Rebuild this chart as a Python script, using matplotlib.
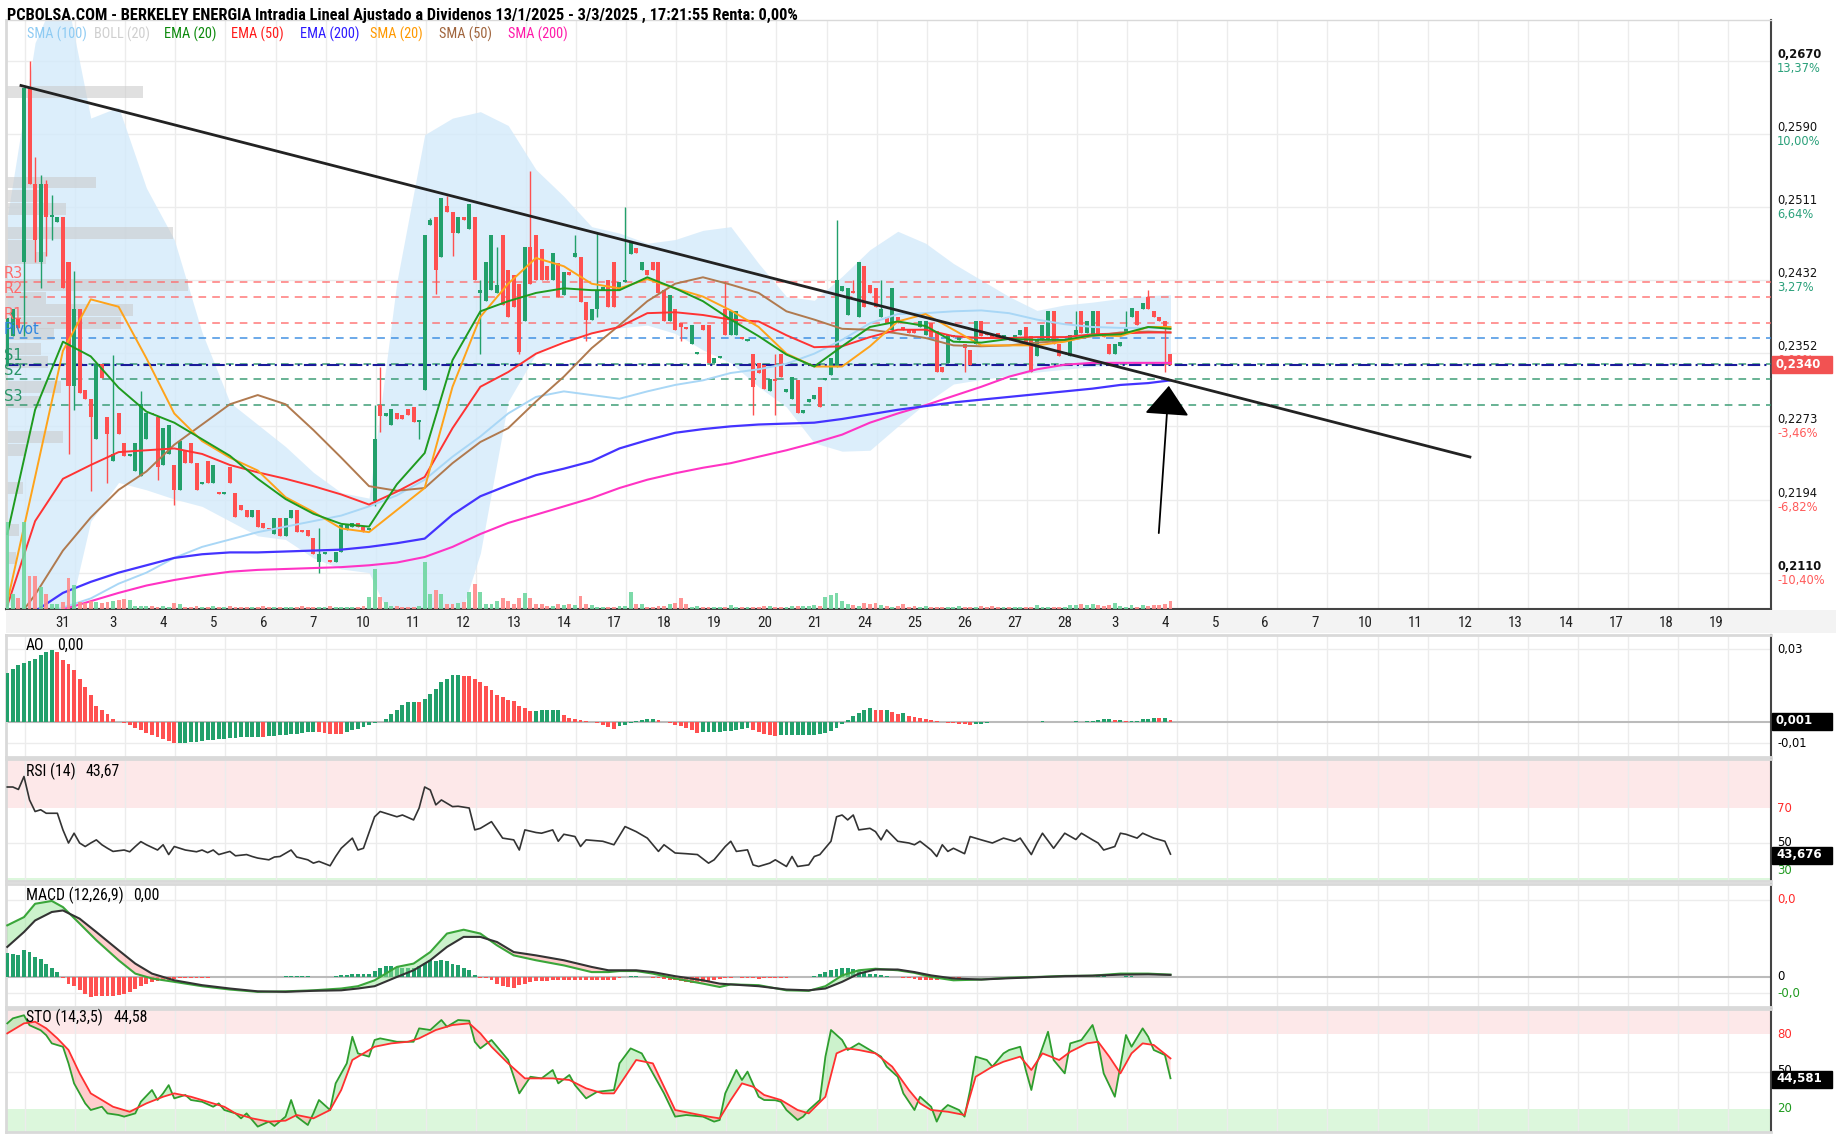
import numpy as np
import matplotlib.pyplot as plt
from matplotlib.patches import Rectangle

# ---------------- datos (precios en diezmilesimas: 2339 = 0,2339) ----------------
aperturas = [2339, 2371, 2391, 2452, 2641, 2536, 2452, 2536, 2500, 2495,
             2500, 2452, 2317, 2401, 2313, 2303, 2259, 2341, 2283, 2235,
             2287, 2255, 2241, 2225, 2219, 2259, 2287, 2283, 2231, 2243,
             2231, 2204, 2247, 2255, 2233, 2210, 2235, 2211, 2202, 2199,
             2229, 2201, 2188, 2182, 2174, 2182, 2168, 2162, 2156, 2173,
             2154, 2173, 2182, 2160, 2160, 2152, 2126, 2134, 2128, 2126,
             2136, 2160, 2164, 2168, 2164, 2160, 2192, 2296, 2284, 2274,
             2287, 2285, 2292, 2294, 2278, 2313, 2492, 2501, 2457, 2512,
             2506, 2483, 2501, 2487, 2501, 2418, 2409, 2421, 2418, 2481,
             2443, 2437, 2428, 2388, 2468, 2481, 2466, 2447, 2432, 2450,
             2416, 2441, 2457, 2457, 2408, 2389, 2401, 2421, 2432, 2452,
             2421, 2430, 2460, 2467, 2443, 2443, 2452, 2452, 2421, 2387,
             2400, 2385, 2381, 2363, 2352, 2383, 2383, 2342, 2347, 2401,
             2372, 2372, 2370, 2366, 2352, 2342, 2340, 2311, 2324, 2352,
             2310, 2303, 2323, 2287, 2300, 2303, 2316, 2323, 2329, 2338,
             2420, 2394, 2420, 2392, 2447, 2427, 2423, 2392, 2392, 2378,
             2392, 2381, 2378, 2378, 2381, 2372, 2385, 2377, 2338, 2342,
             2370, 2367, 2363, 2356, 2363, 2387, 2374, 2372, 2374, 2370,
             2370, 2370, 2372, 2381, 2371, 2349, 2367, 2367, 2398, 2363,
             2352, 2349, 2372, 2398, 2374, 2371, 2398, 2374, 2363, 2352,
             2360, 2374, 2392, 2398, 2401, 2414, 2398, 2392, 2387, 2352]
cierres = [2391, 2401, 2380, 2641, 2536, 2476, 2536, 2500, 2503, 2500,
           2423, 2317, 2401, 2309, 2303, 2283, 2341, 2325, 2265, 2243,
           2265, 2241, 2243, 2255, 2297, 2287, 2286, 2229, 2271, 2275,
           2204, 2257, 2233, 2233, 2204, 2212, 2211, 2231, 2199, 2202,
           2211, 2175, 2182, 2174, 2182, 2164, 2162, 2161, 2173, 2154,
           2173, 2182, 2158, 2158, 2154, 2134, 2134, 2136, 2126, 2136,
           2166, 2166, 2168, 2164, 2158, 2162, 2259, 2284, 2287, 2292,
           2281, 2281, 2285, 2278, 2280, 2481, 2497, 2443, 2521, 2506,
           2483, 2501, 2497, 2515, 2432, 2421, 2452, 2481, 2427, 2405,
           2392, 2403, 2354, 2468, 2428, 2432, 2432, 2432, 2461, 2414,
           2441, 2438, 2461, 2408, 2389, 2401, 2421, 2424, 2403, 2403,
           2430, 2432, 2472, 2461, 2452, 2438, 2443, 2418, 2387, 2416,
           2378, 2381, 2379, 2383, 2354, 2378, 2342, 2347, 2349, 2372,
           2398, 2398, 2368, 2368, 2316, 2331, 2314, 2324, 2322, 2327,
           2314, 2327, 2287, 2291, 2303, 2307, 2294, 2325, 2347, 2432,
           2425, 2423, 2418, 2452, 2403, 2418, 2403, 2401, 2385, 2423,
           2385, 2378, 2374, 2374, 2387, 2387, 2370, 2332, 2332, 2372,
           2372, 2370, 2358, 2340, 2387, 2371, 2372, 2370, 2370, 2372,
           2367, 2372, 2378, 2363, 2332, 2367, 2383, 2398, 2363, 2349,
           2354, 2372, 2378, 2374, 2387, 2398, 2372, 2370, 2352, 2363,
           2365, 2381, 2402, 2383, 2407, 2400, 2392, 2387, 2381, 2340]
mecha_alta = {4: 2670, 5: 2566, 6: 2546, 7: 2541, 8: 2524, 12: 2442, 19: 2351, 24: 2311,
              56: 2162, 66: 2296, 67: 2337, 76: 2499, 79: 2523, 85: 2432, 88: 2468, 94: 2551,
              102: 2481, 106: 2483, 111: 2511, 129: 2431, 138: 2352, 149: 2497, 152: 2432,
              157: 2432, 192: 2398, 201: 2398, 205: 2421}
mecha_baja = {3: 2371, 5: 2452, 6: 2423, 7: 2458, 8: 2476, 11: 2243, 12: 2291, 15: 2203,
              18: 2211, 27: 2215, 30: 2188, 56: 2114, 66: 2186, 67: 2267, 74: 2259, 77: 2417,
              80: 2458, 85: 2352, 92: 2352, 104: 2366, 106: 2392, 121: 2366, 134: 2285,
              138: 2285, 172: 2332, 208: 2332}
volumen = [87, 15, 11, 87, 33, 33, 22, 15, 5, 5,
           7, 31, 24, 7, 6, 8, 7, 6, 7, 8,
           9, 10, 9, 3, 3, 3, 3, 2, 3, 2,
           6, 5, 2, 2, 3, 2, 2, 3, 2, 2,
           3, 2, 2, 2, 2, 2, 3, 2, 2, 2,
           2, 2, 2, 3, 2, 2, 2, 2, 3, 2,
           2, 2, 2, 2, 3, 12, 40, 12, 7, 3,
           3, 2, 2, 2, 3, 47, 15, 19, 15, 5,
           5, 6, 7, 17, 25, 17, 5, 5, 8, 11,
           8, 5, 11, 16, 11, 5, 5, 3, 3, 5,
           4, 5, 4, 13, 5, 4, 2, 2, 2, 2,
           3, 3, 17, 5, 5, 2, 2, 3, 3, 5,
           6, 11, 5, 2, 3, 2, 2, 2, 2, 2,
           4, 2, 2, 2, 2, 2, 3, 3, 2, 2,
           2, 3, 3, 3, 3, 4, 3, 12, 14, 16,
           8, 5, 4, 3, 6, 5, 6, 4, 3, 2,
           3, 5, 2, 3, 2, 3, 2, 2, 2, 2,
           2, 3, 2, 2, 2, 3, 2, 3, 2, 2,
           2, 2, 2, 2, 2, 4, 2, 2, 2, 2,
           2, 4, 4, 5, 4, 5, 4, 3, 4, 6,
           3, 2, 4, 2, 4, 3, 4, 4, 5, 8]

# medias moviles y bollinger leidas cada 5 velas
idx_medias = list(range(0, 210, 5)) + [209]
ema20 = [0.2156, 0.2291, 0.2365, 0.2349, 0.2315, 0.2289, 0.2277, 0.2259, 0.2241, 0.2216,
         0.2194, 0.2178, 0.2167, 0.2164, 0.2210, 0.2244, 0.2345, 0.2398, 0.2409, 0.2418,
         0.2423, 0.2421, 0.2421, 0.2435, 0.2423, 0.2409, 0.2389, 0.2371, 0.2351, 0.2338,
         0.2360, 0.2381, 0.2387, 0.2382, 0.2365, 0.2364, 0.2368, 0.2367, 0.2367, 0.2372,
         0.2373, 0.2381, 0.2379]
sma20 = [0.2082, 0.2218, 0.2355, 0.2411, 0.2403, 0.2347, 0.2287, 0.2257, 0.2239, 0.2225,
         0.2196, 0.2180, 0.2162, 0.2158, 0.2182, 0.2206, 0.2316, 0.2392, 0.2428, 0.2456,
         0.2447, 0.2428, 0.2423, 0.2433, 0.2423, 0.2414, 0.2399, 0.2381, 0.2352, 0.2338,
         0.2338, 0.2360, 0.2387, 0.2395, 0.2378, 0.2361, 0.2361, 0.2361, 0.2365, 0.2372,
         0.2371, 0.2381, 0.2381]
ema50 = [0.2078, 0.2170, 0.2216, 0.2231, 0.2245, 0.2247, 0.2249, 0.2243, 0.2231, 0.2223,
         0.2216, 0.2208, 0.2199, 0.2188, 0.2202, 0.2218, 0.2271, 0.2316, 0.2332, 0.2352,
         0.2364, 0.2374, 0.2381, 0.2396, 0.2397, 0.2394, 0.2389, 0.2387, 0.2372, 0.2359,
         0.2360, 0.2370, 0.2378, 0.2378, 0.2371, 0.2369, 0.2369, 0.2370, 0.2370, 0.2373,
         0.2374, 0.2375, 0.2375]
sma50 = [0.2050, 0.2090, 0.2138, 0.2174, 0.2204, 0.2224, 0.2253, 0.2275, 0.2297, 0.2307,
         0.2297, 0.2269, 0.2239, 0.2208, 0.2203, 0.2206, 0.2233, 0.2256, 0.2271, 0.2300,
         0.2327, 0.2358, 0.2383, 0.2409, 0.2428, 0.2435, 0.2427, 0.2418, 0.2398, 0.2389,
         0.2379, 0.2378, 0.2374, 0.2369, 0.2361, 0.2360, 0.2361, 0.2364, 0.2366, 0.2371,
         0.2375, 0.2376, 0.2375]
sma100 = [0.2050, 0.2062, 0.2076, 0.2086, 0.2102, 0.2114, 0.2130, 0.2142, 0.2150, 0.2158,
          0.2164, 0.2170, 0.2176, 0.2186, 0.2198, 0.2215, 0.2240, 0.2262, 0.2287, 0.2305,
          0.2311, 0.2307, 0.2303, 0.2311, 0.2318, 0.2323, 0.2331, 0.2335, 0.2341, 0.2352,
          0.2367, 0.2385, 0.2395, 0.2396, 0.2398, 0.2399, 0.2396, 0.2389, 0.2384, 0.2381,
          0.2380, 0.2380, 0.2380]
ema200 = [0.2062, 0.2072, 0.2092, 0.2104, 0.2114, 0.2122, 0.2130, 0.2134, 0.2136, 0.2136,
          0.2137, 0.2138, 0.2139, 0.2142, 0.2146, 0.2151, 0.2177, 0.2197, 0.2209, 0.2220,
          0.2227, 0.2235, 0.2249, 0.2258, 0.2266, 0.2270, 0.2273, 0.2275, 0.2276, 0.2277,
          0.2281, 0.2286, 0.2291, 0.2295, 0.2299, 0.2302, 0.2305, 0.2308, 0.2311, 0.2314,
          0.2318, 0.2320, 0.2323]
sma200 = [0.2074, 0.2083, 0.2092, 0.2100, 0.2106, 0.2111, 0.2115, 0.2117, 0.2118, 0.2119,
          0.2120, 0.2122, 0.2125, 0.2131, 0.2142, 0.2156, 0.2168, 0.2177, 0.2186, 0.2195,
          0.2206, 0.2215, 0.2222, 0.2228, 0.2233, 0.2240, 0.2247, 0.2255, 0.2264, 0.2277,
          0.2287, 0.2296, 0.2306, 0.2316, 0.2327, 0.2335, 0.2340, 0.2342, 0.2342, 0.2342,
          0.2342]
boll_sup = [0.2500, 0.2690, 0.2760, 0.2608, 0.2620, 0.2532, 0.2476, 0.2375, 0.2299, 0.2275,
            0.2251, 0.2223, 0.2201, 0.2195, 0.2430, 0.2590, 0.2608, 0.2615, 0.2600, 0.2552,
            0.2523, 0.2490, 0.2483, 0.2472, 0.2476, 0.2486, 0.2490, 0.2450, 0.2414, 0.2410,
            0.2436, 0.2465, 0.2485, 0.2472, 0.2450, 0.2432, 0.2414, 0.2399, 0.2405, 0.2408,
            0.2412, 0.2415, 0.2416]
boll_inf = [0.2080, 0.2060, 0.2040, 0.2170, 0.2212, 0.2204, 0.2194, 0.2186, 0.2170, 0.2154,
            0.2150, 0.2130, 0.2118, 0.2114, 0.2050, 0.2040, 0.2040, 0.2135, 0.2300, 0.2352,
            0.2367, 0.2374, 0.2380, 0.2383, 0.2374, 0.2356, 0.2342, 0.2316, 0.2294, 0.2255,
            0.2246, 0.2247, 0.2273, 0.2298, 0.2319, 0.2324, 0.2328, 0.2332, 0.2335, 0.2338,
            0.2340, 0.2341, 0.2341]

# volumen por precio (barras grises a la izquierda)
vp_precio = [0.2636, 0.2538, 0.2523, 0.2509, 0.2483, 0.2469, 0.2456, 0.2427, 0.2413, 0.2399,
             0.2385, 0.2373, 0.2357, 0.2343, 0.2316, 0.2299, 0.2261, 0.2247, 0.2206, 0.2160, 0.2130]
vp_volumen = [137, 90, 33, 60, 167, 30, 40, 182, 40, 127, 115, 48, 35, 42, 55, 35, 57, 20, 17, 13, 10]

pivotes = [('R3', 0.2430), ('R2', 0.2414), ('R1', 0.2385), ('Pivot', 0.2369),
           ('S1', 0.2341), ('S2', 0.2324), ('S3', 0.2296)]
precio_actual = 0.2340
tendencia_x = [2.46, 262.8]
tendencia_y = [0.26434, 0.22397]
flecha_desde = (206.9, 0.2157)
flecha_hasta = (208.7, 0.2317)

precio_ticks = [0.2670, 0.25906, 0.25111, 0.24317, 0.23523, 0.22729, 0.21934, 0.2114]
precio_txt = ['0,2670', '0,2590', '0,2511', '0,2432', '0,2352', '0,2273', '0,2194', '0,2110']
pct_txt = ['13,37%', '10,00%', '6,64%', '3,27%', '0,00%', '-3,46%', '-6,82%', '-10,40%']

dias = ['31', '3', '4', '5', '6', '7', '10', '11', '12', '13', '14', '17', '18', '19', '20', '21',
        '24', '25', '26', '27', '28', '3', '4', '5', '6', '7', '10', '11', '12', '13', '14',
        '17', '18', '19']

# AO (milesimas)
ao = [20.1, 21.9, 23.6, 24.4, 24.9, 26.0, 27.7, 28.8, 29.7, 28.8,
      25.6, 24.0, 21.2, 17.8, 14.4, 11.0, 6.4, 4.8, 3.4, 1.4,
      0.2, -0.3, -1.1, -2.3, -3.4, -4.5, -5.5, -6.2, -6.9, -7.9,
      -8.6, -8.55, -8.5, -8.4, -8.2, -7.9, -7.5, -7.3, -7.1, -6.9,
      -6.6, -6.4, -6.3, -6.2, -6.1, -6.0, -6.2, -5.9, -5.6, -5.5,
      -5.2, -4.9, -4.8, -4.5, -4.2, -4.1, -4.15, -4.4, -4.8, -4.85,
      -4.9, -4.1, -3.4, -2.9, -2.1, -1.2, -0.4, 0.1, 1.4, 3.4,
      5.1, 6.8, 8.1, 8.2, 8.1, 9.6, 11.6, 13.7, 16.4, 17.8,
      19.2, 19.5, 18.9, 18.8, 17.8, 16.4, 14.7, 13.0, 11.0, 10.3,
      8.9, 8.6, 6.4, 5.9, 4.6, 4.7, 4.75, 4.8, 4.85, 4.9,
      2.7, 1.8, 1.4, 1.0, 0.4, 0.0, -0.4, -1.1, -2.1, -2.7,
      -1.8, -1.2, -0.4, 0.4, 1.0, 1.2, 1.3, 0.7, 0.0, -0.4,
      -1.1, -1.8, -2.6, -3.4, -4.4, -4.3, -4.2, -4.1, -4.0, -3.8,
      -3.6, -3.3, -3.0, -2.6, -3.4, -4.1, -4.8, -5.3, -5.6, -5.55,
      -5.5, -5.45, -5.4, -5.35, -5.3, -5.2, -5.0, -4.5, -3.7, -2.3,
      -1.0, 0.7, 2.3, 3.7, 5.1, 5.6, 5.1, 4.8, 4.9, 4.3,
      3.4, 3.5, 2.3, 2.1, 1.6, 1.2, 0.7, 0.3, 0.0, -0.3,
      -0.5, -0.7, -1.0, -1.4, -1.0, -0.7, -0.3, -0.1, -0.2, -0.1,
      -0.2, -0.1, 0.0, 0.1, 0.0, 0.1, 0.3, 0.2, 0.1, 0.2,
      0.1, 0.2, 0.3, 0.2, 0.3, 0.4, 1.0, 1.05, 1.1, 0.7,
      0.75, 0.4, 0.45, 0.5, 1.2, 1.4, 1.5, 1.45, 1.5, 1.0]

# RSI
rsi_idx = [0, 1, 2, 3, 4, 5, 6, 7, 8, 9, 10, 11, 12, 13, 14, 15, 16, 17, 18, 19,
           21, 22, 23, 24, 25, 27, 28, 29, 30, 32, 34, 35, 36, 37, 38, 40, 41, 43, 44, 45,
           47, 48, 49, 51, 52, 54, 55, 56, 58, 59, 60, 62, 63, 64, 66, 67, 69, 70, 71, 73,
           74, 75, 76, 77, 78, 80, 81, 83, 84, 85, 87, 89, 91, 92, 93, 95, 96, 98, 99, 100,
           102, 103, 104, 107, 109, 111, 113, 115, 117, 118, 120, 122, 124, 126, 127, 129, 130, 131, 133, 134,
           135, 137, 138, 140, 141, 142, 144, 145, 146, 148, 149, 150, 151, 152, 153, 155, 156, 157, 158, 160,
           162, 163, 164, 166, 167, 168, 169, 170, 172, 173, 175, 177, 179, 181, 182, 184, 185, 186, 188, 190,
           192, 193, 195, 196, 197, 199, 200, 201, 203, 204, 206, 208, 209]
rsi = [82, 82, 80.6, 88, 74.6, 68, 69, 67, 67, 67, 57.5, 50, 55.6, 50, 48, 50, 51.8, 49, 47, 45.2,
       46, 45, 48, 50.8, 49, 46, 49, 43.4, 48, 46, 45, 46, 44.5, 46, 43.4, 45.2, 42.7, 43.4, 42.3, 41.4,
       40.4, 42, 42.3, 46, 42, 40.4, 38.5, 39.5, 37, 42.3, 47, 52.8, 46, 47, 65, 68, 66, 65, 66, 63.2,
       70, 82, 80.3, 71.8, 74.6, 70.8, 71, 70, 57.5, 58.4, 62.2, 52.8, 51.8, 46, 57.5, 56, 55.6, 57.5, 51, 55,
       53.7, 48, 51.8, 51, 49, 59.4, 56.5, 52.8, 45.2, 49, 44.3, 43.9, 43.4, 38.5, 40.4, 48, 51, 45.2, 46.1, 37.5,
       36.6, 38.5, 40.4, 36.6, 42.3, 36.6, 37.5, 42.3, 43.4, 51, 65, 66, 63.2, 66, 57.5, 58.4, 56.5, 51.8, 57.5, 51,
       50, 49, 51, 46, 42.3, 49, 45.2, 47, 43.9, 53.7, 51.8, 50, 52.8, 51, 52.8, 43.4, 50, 55.6, 47, 55.6,
       52, 55.6, 51.8, 50, 46, 48, 55.6, 55, 52.8, 55.6, 52.8, 51, 43.67]

# MACD (diezmilesimas)
macd_idx = [0, 3, 5, 8, 10, 13, 16, 20, 23, 26, 30, 35, 40, 45, 50, 55, 60, 63, 66, 70,
            73, 76, 79, 82, 85, 88, 91, 95, 100, 105, 108, 110, 113, 116, 120, 125, 128, 130, 135, 140,
            144, 147, 150, 153, 156, 160, 163, 166, 170, 175, 180, 185, 190, 195, 200, 205, 209]
macd = [20.1, 23.3, 28.5, 29.6, 27.2, 20.8, 14.3, 6.5, 1.3, -0.6, -1.9, -3.6, -4.9, -5.8, -5.6, -5.2, -4.5, -3.6, -1.3, 3.9,
        5.2, 9.7, 16.9, 18.4, 16.9, 12.3, 8.4, 6.5, 4.5, 1.9, 1.9, 2.3, 2.3, 1.3, -0.6, -2.6, -3.9, -2.9, -3.2, -5.2,
        -5.4, -3.6, 0.6, 2.6, 3.2, 2.6, 1.6, 0, -1.3, -1.0, -0.3, 0, 0.4, 0.5, 1.3, 1.3, 0.9]
senal = [11.7, 17.5, 22, 25.3, 25.9, 22.7, 17.5, 10.4, 5.2, 1.3, -1.3, -3.2, -4.5, -5.6, -5.8, -5.4, -5.2, -4.5, -3.6, 0,
         2.6, 6.5, 11.7, 15.6, 15.6, 13.6, 9.7, 8.4, 6.5, 3.9, 2.6, 2.6, 2.6, 1.9, 0.3, -1.3, -2.6, -2.9, -3.6, -4.9,
         -5.2, -4.5, -1.9, 1.3, 2.9, 2.9, 1.9, 0.6, -0.6, -1.0, -0.5, -0.1, 0.3, 0.5, 0.9, 1.0, 0.8]
histograma = [9.3, 9.1, 8.4, 10.4, 9.7, 7.8, 6.9, 5.2, 3.6, 1.9,
              -0.5, -2.6, -3.6, -5.2, -6.5, -8.0, -7.5, -7.5, -7.5, -7.5,
              -7.1, -6.5, -5.8, -4.5, -3.6, -2.9, -1.9, -1.6, -1.3, -1.0,
              -0.8, -0.6, -0.5, -0.4, -0.4, -0.3, -0.3, -0.2, -0.2, -0.2,
              -0.2, -0.2, -0.1, -0.1, -0.1, -0.2, -0.2, -0.1, -0.1, -0.1,
              0.4, 0.4, 0.4, 0.4, 0.3, 0, 0, 0, 0, 0.2,
              0.6, 0.8, 1.0, 1.0, 1.3, 1.3, 2.3, 3.6, 4.2, 4.2,
              3.9, 3.6, 3.6, 3.6, 4.2, 5.4, 6.5, 6.2, 6.5, 6.2,
              5.2, 4.5, 3.6, 2.9, 0.6, -0.4, -0.6, -1.3, -2.9, -3.6,
              -3.9, -4.2, -3.1, -2.6, -1.9, -1.6, -1.5, -1.4, -1.3, -1.3,
              -1.3, -1.3, -1.3, -1.2, -1.2, -1.3, -1.3, -1.3, -1.2, -1.0,
              -0.6, -0.2, 0.3, 0.3, 0.1, 0, -0.3, -0.6, -0.8, -1.0,
              -1.3, -1.6, -1.9, -2.3, -2.3, -2.0, -1.6, -1.2, -0.8, -0.5,
              -0.3, -0.2, -0.3, -0.6, -0.6, -0.8, -0.6, -0.4, -0.3, -0.3,
              -0.3, -0.2, -0.2, -0.1, 0, 0.3, 1.0, 1.9, 2.6, 3.2,
              3.6, 3.6, 3.2, 2.6, 1.9, 1.3, 1.0, 0.6, 0.3, 0.1,
              -0.2, -0.4, -0.6, -0.8, -1.0, -1.3, -1.3, -1.0, -0.8, -0.6,
              -0.4, -0.3, -0.2, -0.1, 0, 0.1, 0.1, 0, 0, 0,
              0.1, 0.1, 0, 0.1, 0.1, 0.2, 0.2, 0.1, 0.1, 0.1,
              0.1, 0.2, 0.2, 0.1, 0.1, 0.1, 0.2, 0.2, 0.1, 0.1,
              0.1, 0.2, 0.2, 0.1, 0.1, 0.1, 0.1, 0.0, -0.1, -0.2]

# Estocastico
sto_k_idx = [0, 1, 3, 4, 6, 7, 8, 10, 11, 12, 14, 15, 17, 18, 20, 21, 23, 24, 26, 27,
             28, 29, 30, 32, 33, 35, 37, 38, 39, 41, 42, 43, 44, 45, 47, 48, 50, 51, 52, 54,
             55, 56, 58, 59, 61, 62, 63, 65, 66, 67, 70, 73, 74, 76, 78, 79, 81, 83, 84, 85,
             87, 90, 92, 94, 96, 98, 99, 101, 102, 104, 106, 109, 110, 112, 114, 116, 118, 120, 122, 125,
             127, 128, 129, 131, 132, 133, 135, 136, 138, 139, 140, 142, 143, 144, 146, 147, 148, 150, 151, 153,
             155, 157, 158, 160, 161, 163, 164, 166, 167, 168, 169, 171, 172, 173, 174, 176, 177, 179, 180, 182,
             183, 184, 185, 187, 188, 190, 191, 193, 195, 196, 197, 199, 201, 202, 204, 205, 206, 208, 209]
sto_k = [88.5, 92.5, 95, 87, 83, 79, 72.5, 69.8, 56.5, 40.5, 24.5, 19.2, 21.8, 16.5, 15.2, 13.9, 16.5, 25.8, 35.2, 27.2,
         32.5, 39.1, 28.5, 31.2, 27.2, 25.8, 21.8, 24.5, 19.2, 16.5, 12.5, 16.5, 11.2, 5.9, 9.9, 6.4, 13.9, 27.2, 13.9, 7.2,
         16.5, 27.2, 19.2, 40.5, 56.5, 77.8, 64.5, 61.9, 75.2, 76.5, 73.8, 73.8, 84.5, 83.2, 91.2, 85.8, 91.2, 90.6, 73.8, 68.5,
         75.2, 59.2, 32.5, 45.8, 44.5, 51.2, 40.5, 47.2, 39.1, 28.5, 33.8, 35.2, 56.5, 68.5, 64.5, 48.5, 32.5, 13.9, 15.2, 13.9,
         9.9, 11.2, 32.5, 51.2, 43.2, 49.9, 29.8, 27.2, 27, 25.8, 19.2, 11.2, 13.9, 19.2, 27.2, 61.9, 83.2, 75.2, 67.2, 72.5,
         67.2, 61.9, 53.9, 45.8, 32.5, 19.2, 29.8, 21.8, 9.9, 19.2, 23.2, 19.2, 13.9, 35.2, 61.9, 59.2, 53.9, 64.5, 67.2, 69.8,
         51.2, 35.2, 56.5, 81.8, 59.2, 48.5, 72.5, 75.2, 87.2, 72.5, 48.5, 29.8, 79.2, 69.8, 84.5, 77.8, 67.2, 63.2, 44.58]
sto_d_idx = [0, 3, 5, 7, 9, 11, 13, 15, 17, 19, 22, 25, 28, 30, 33, 36, 39, 41, 44, 47,
             50, 52, 55, 58, 60, 62, 64, 66, 69, 72, 74, 77, 80, 83, 85, 87, 90, 93, 96, 98,
             101, 104, 107, 109, 111, 113, 116, 118, 120, 123, 126, 128, 130, 132, 134, 136, 139, 142, 144, 147,
             149, 151, 153, 156, 159, 162, 164, 166, 169, 172, 174, 177, 179, 182, 184, 186, 189, 191, 194, 196,
             198, 200, 202, 204, 206, 209]
sto_d = [80.5, 88.5, 89.8, 84.5, 76.5, 67.2, 48.5, 32.5, 27.2, 21.8, 17.8, 24.5, 29.8, 32.5, 29.8, 25.8, 21.8, 16.5, 12.5, 9.9,
         10.7, 15.2, 12.5, 19.2, 35.2, 59.2, 64.5, 69.8, 72.5, 73.8, 76.5, 83.2, 87.2, 88.5, 80.5, 69.8, 56.5, 44.5, 44.5, 44.5,
         43.2, 36.5, 32.5, 32.5, 45.8, 59.2, 56.5, 37.8, 19.2, 16.5, 13.9, 12.5, 27.2, 40.5, 37.8, 31.2, 27.2, 19.2, 16.5, 29.8,
         64.5, 68.5, 67.2, 64.5, 53.9, 35.2, 24.5, 19.2, 17.8, 15.2, 45.8, 53.9, 57.8, 61.9, 51.2, 64.5, 59.2, 65.8, 72.5, 73.8,
         61.9, 48.5, 64.5, 72.5, 71.2, 60.5]

# ---------------- figura ----------------
W, H = 1836, 1138
fig = plt.figure(figsize=(W / 100, H / 100), dpi=100)
fig.patch.set_facecolor('white')
ESTRECHA = ['Roboto Condensed', 'Liberation Sans Narrow', 'Liberation Sans', 'DejaVu Sans']
VERDE, ROJO = '#22a06b', '#ff5050'
XMIN, XMAX = -0.23, 316.9
rejilla_x = [3.2 + 9 * k for k in range(35)]
render = fig.canvas.get_renderer()


def eje(x0, y0, x1, y1):
    return fig.add_axes([x0 / W, 1 - y1 / H, (x1 - x0) / W, (y1 - y0) / H])


def fy(ypx):
    return 1 - ypx / H


def ajustar(texto, tam, ancho_obj):
    # tamano de letra para que el texto mida lo mismo que en la imagen original
    ancho = texto.get_window_extent(render).width
    return tam * ancho_obj / ancho


def base(ax, ylim, yticks):
    ax.set_xlim(XMIN, XMAX)
    ax.set_ylim(*ylim)
    ax.set_xticks(rejilla_x)
    ax.set_yticks(yticks)
    ax.tick_params(length=0, labelbottom=False, labelleft=False)
    ax.grid(True, color='#ececec', lw=1)
    ax.set_axisbelow(True)
    for s in ['top', 'bottom', 'left']:
        ax.spines[s].set_color('#d9d9d9')
        ax.spines[s].set_linewidth(2)
    ax.spines['right'].set_color('#444444')
    ax.spines['right'].set_linewidth(1.5)


# cabecera
titulo = fig.text(7 / W, fy(15), 'PCBOLSA.COM - BERKELEY ENERGIA Intradia Lineal Ajustado a Dividenos '
                  '13/1/2025 - 3/3/2025 , 17:21:55 Renta: 0,00%',
                  fontsize=12, weight='bold', va='center', family=ESTRECHA)
titulo.set_fontsize(min(12, ajustar(titulo, 12, 790)))
ESC = titulo.get_fontsize() / 12

# ---------- panel principal ----------
YMIN, YMAX = 0.20745, 0.27146
ax = eje(6, 20, 1771, 609)
base(ax, (YMIN, YMAX), precio_ticks)
ax.spines['bottom'].set_color('#444444')
ax.spines['bottom'].set_linewidth(1.5)
ax.spines['top'].set_linewidth(1)

ax.fill_between(idx_medias, boll_inf, boll_sup, color='#d4eafa', alpha=0.8, lw=0, zorder=1)
ax.barh(vp_precio, np.array(vp_volumen) / 5.566, left=XMIN, height=0.0013,
        color='#c8c8c8', alpha=0.55, zorder=2)

for nombre, p in pivotes:
    col = '#ff6b6b' if nombre.startswith('R') else ('#2f86e0' if nombre == 'Pivot' else '#2a9468')
    ax.axhline(p, color=col, lw=1.1, ls=(0, (5, 4)), zorder=3, alpha=0.9)
    ypx = 20 + (YMAX - p) * 9203
    fig.text(4 / W, fy(ypx - 1), nombre, color=col, fontsize=10.5, va='bottom', ha='left', zorder=10)
ax.axhline(precio_actual, color='#1a1a9a', lw=1.5, ls=(0, (6, 2, 1, 2)), zorder=3)

x = np.arange(len(cierres))
o = np.array(aperturas) / 1e4
c = np.array(cierres) / 1e4
alto, bajo = np.maximum(o, c), np.minimum(o, c)
hi, lo = alto.copy(), bajo.copy()
for k, v in mecha_alta.items():
    hi[k] = max(hi[k], v / 1e4)
for k, v in mecha_baja.items():
    lo[k] = min(lo[k], v / 1e4)
col_vela = np.where(c >= o, VERDE, ROJO)
ax.vlines(x, lo, hi, colors=col_vela, lw=1, zorder=5)
ax.bar(x, np.maximum(alto - bajo, 0.00007), bottom=bajo, width=0.72, color=col_vela, zorder=6)

ax.plot(idx_medias, sma100, color='#a9d7f6', lw=1.4, zorder=7)
ax.plot(idx_medias[2:], sma200, color='#ff33c4', lw=1.5, zorder=7)
ax.plot(idx_medias, ema200, color='#4433ff', lw=1.6, zorder=7)
ax.plot(idx_medias, sma50, color='#b07a4f', lw=1.4, zorder=7)
ax.plot(idx_medias, ema50, color='#ff3333', lw=1.4, zorder=7)
ax.plot(idx_medias, sma20, color='#ffa31a', lw=1.4, zorder=7)
ax.plot(idx_medias, ema20, color='#1f9b1f', lw=1.4, zorder=7)

ax.plot(tendencia_x, tendencia_y, color='#222222', lw=2, zorder=8)
ax.annotate('', xy=flecha_hasta, xytext=flecha_desde,
            arrowprops=dict(arrowstyle='-|>,head_length=1.25,head_width=0.95', mutation_scale=15,
                            color='black', lw=1.3, shrinkA=0, shrinkB=0), zorder=9)

axv = ax.twinx()
axv.set_ylim(0, 589)
axv.set_xlim(XMIN, XMAX)
axv.axis('off')
col_vol = np.where(c >= o, '#6fd6a0', '#ff8a8a')
axv.bar(x, volumen, width=0.7, color=col_vol, alpha=0.9)

# leyenda
leyenda = [('SMA (100)', '#8ecbf3', 27), ('BOLL (20)', '#cfcfcf', 94), ('EMA (20)', '#0d8a0d', 164),
           ('EMA (50)', '#ff1a1a', 231), ('EMA (200)', '#2d1aff', 300), ('SMA (20)', '#ff9900', 370),
           ('SMA (50)', '#a0643c', 439), ('SMA (200)', '#ff1aaa', 508)]
textos_ley = [fig.text(xp / W, fy(34), txt, color=col, fontsize=11, va='center', family=ESTRECHA)
              for txt, col, xp in leyenda]
tam_ley = min(14, ajustar(textos_ley[0], 11, 60))
for t in textos_ley:
    t.set_fontsize(tam_ley)

# etiquetas de precio a la derecha
for p, s, pct in zip(precio_ticks, precio_txt, pct_txt):
    ypx = 20 + (YMAX - p) * 9203
    negrita = 'bold' if s in ('0,2670', '0,2110') else 'normal'
    fig.text(1777 / W, fy(ypx), s, fontsize=8.3, weight=negrita, va='bottom', color='#111111')
    fig.text(1777 / W, fy(ypx + 1), pct, fontsize=8.3, va='top',
             color='#ff5a5a' if pct.startswith('-') or pct == '0,00%' else '#2aa07a')


def caja(ypx, txt, fondo):
    fig.add_artist(Rectangle((1772 / W, fy(ypx + 8.5)), 60 / W, 17 / H, transform=fig.transFigure,
                             color=fondo, zorder=5))
    fig.text(1776 / W, fy(ypx), txt, color='white', fontsize=8.5, weight='bold', va='center', zorder=6)


caja(20 + (YMAX - precio_actual) * 9203, '0,2340', '#f25252')

# ---------- franja de fechas ----------
XFIN = (1836 - 7.3) / 5.566
axd = eje(6, 610, 1836, 633)
axd.set_facecolor('#f3f3f3')
axd.set_xlim(XMIN, XFIN)
axd.set_ylim(0, 1)
axd.set_xticks([])
axd.set_yticks([])
for s in axd.spines.values():
    s.set_visible(False)
for k, d in enumerate(dias):
    axd.text(10 + 9 * k, 0.45, d, ha='center', va='center', fontsize=11 * ESC, family=ESTRECHA,
             color='#222222')

# ---------- AO ----------
ax_ao = eje(6, 635, 1771, 757)
base(ax_ao, (-0.01439, 0.03576), [0.03, -0.00863])
ao_v = np.array(ao) / 1000
col_ao = [VERDE] + [VERDE if ao_v[i] > ao_v[i - 1] else ROJO for i in range(1, len(ao_v))]
ax_ao.bar(x, ao_v, width=0.7, color=col_ao, zorder=3)
ax_ao.axhline(0, color='#bbbbbb', lw=1.5, zorder=2)
fig.text(26 / W, fy(645), 'AO', fontsize=11.5 * ESC, va='center', family=ESTRECHA)
fig.text(57 / W, fy(645), '0,00', fontsize=11.5 * ESC, va='center', family=ESTRECHA)
fig.text(1777 / W, fy(649), '0,03', fontsize=8.3, va='center')
fig.text(1777 / W, fy(743), '-0,01', fontsize=8.3, va='center')
caja(721, '0,001', 'black')

# ---------- RSI ----------
ax_rsi = eje(6, 759, 1771, 881)
base(ax_rsi, (28.3, 98), [50])
ax_rsi.axhspan(70, 98, color='#fde8e9', lw=0, zorder=0)
ax_rsi.axhspan(28.3, 30, color='#dcf7dc', lw=0, zorder=0)
ax_rsi.plot(rsi_idx, rsi, color='#333333', lw=1.2, zorder=3)
fig.text(26 / W, fy(771), 'RSI (14)', fontsize=11.5 * ESC, va='center', family=ESTRECHA)
fig.text(86 / W, fy(771), '43,67', fontsize=11.5 * ESC, va='center', family=ESTRECHA)
fig.text(1777 / W, fy(808), '70', fontsize=8.5, va='center', color='#ff2a2a')
fig.text(1777 / W, fy(843), '50', fontsize=8.5, va='center')
fig.text(1777 / W, fy(870), '30', fontsize=8.5, va='center', color='#1f9a1f')
caja(855, '43,676', 'black')

# ---------- MACD ----------
ax_m = eje(6, 884, 1771, 1007)
base(ax_m, (-11.7, 36.2), [30, -6.2])
hv = np.array(histograma)
ax_m.bar(x, hv, width=0.7, color=np.where(hv >= 0, VERDE, ROJO), zorder=3)
ax_m.axhline(0, color='#bbbbbb', lw=1.5, zorder=2)
mv, sv = np.array(macd), np.array(senal)
ax_m.fill_between(macd_idx, mv, sv, where=mv >= sv, interpolate=True, color='#9be69b', alpha=0.5, lw=0, zorder=4)
ax_m.fill_between(macd_idx, mv, sv, where=mv < sv, interpolate=True, color='#ff9c9c', alpha=0.5, lw=0, zorder=4)
ax_m.plot(macd_idx, mv, color='#3aa63a', lw=1.5, zorder=5)
ax_m.plot(macd_idx, sv, color='#333333', lw=1.5, zorder=5)
fig.text(26 / W, fy(895), 'MACD (12,26,9)', fontsize=11.5 * ESC, va='center', family=ESTRECHA)
fig.text(133 / W, fy(895), '0,00', fontsize=11.5 * ESC, va='center', family=ESTRECHA)
fig.text(1777 / W, fy(899), '0,0', fontsize=8.5, va='center', color='#ff2a2a')
fig.text(1777 / W, fy(977), '0', fontsize=8.5, va='center')
fig.text(1777 / W, fy(993), '-0,0', fontsize=8.5, va='center', color='#1f9a1f')

# ---------- Estocastico ----------
ax_s = eje(6, 1009, 1771, 1132)
base(ax_s, (1.6, 100), [50])
ax_s.axhspan(80, 100, color='#fde8e9', lw=0, zorder=0)
ax_s.axhspan(1.6, 20, color='#dcf7dc', lw=0, zorder=0)
xs = np.arange(0, 209.01, 0.25)
ki = np.interp(xs, sto_k_idx, sto_k)
di = np.interp(xs, sto_d_idx, sto_d)
ax_s.fill_between(xs, ki, di, where=ki >= di, interpolate=True, color='#9be69b', alpha=0.5, lw=0, zorder=3)
ax_s.fill_between(xs, ki, di, where=ki < di, interpolate=True, color='#ff9c9c', alpha=0.5, lw=0, zorder=3)
ax_s.plot(sto_k_idx, sto_k, color='#2e9e2e', lw=1.3, zorder=4)
ax_s.plot(sto_d_idx, sto_d, color='#ff3030', lw=1.3, zorder=4)
fig.text(26 / W, fy(1017), 'STO (14,3,5)', fontsize=11.5 * ESC, va='center', family=ESTRECHA)
fig.text(114 / W, fy(1017), '44,58', fontsize=11.5 * ESC, va='center', family=ESTRECHA)
fig.text(1777 / W, fy(1034), '80', fontsize=8.5, va='center', color='#ff2a2a')
fig.text(1777 / W, fy(1071), '50', fontsize=8.5, va='center')
fig.text(1777 / W, fy(1109), '20', fontsize=8.5, va='center', color='#1f9a1f')
caja(1079, '44,581', 'black')

fig.savefig('out.png', dpi=100)
